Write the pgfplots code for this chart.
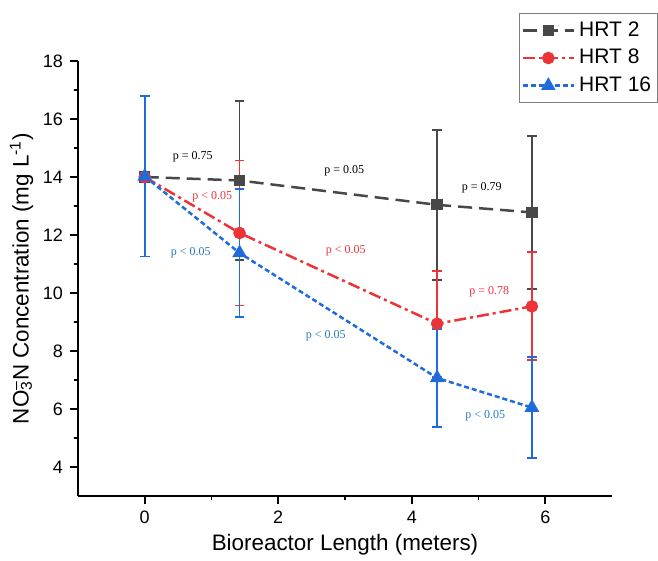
\documentclass[border=0pt]{standalone}
\usepackage{fontspec}
\setmainfont{Liberation Sans}
\newfontfamily\pfont{Liberation Serif}
\usepackage{pgfplots}
\pgfplotsset{compat=1.18}

\definecolor{cgray}{RGB}{72,72,72}
\definecolor{cred}{RGB}{236,52,56}
\definecolor{cblue}{RGB}{30,108,220}
\definecolor{tblue}{RGB}{40,120,190}

\begin{document}
\begin{tikzpicture}
\begin{axis}[
  scale only axis,
  width=267pt, height=217.5pt,
  xmin=-1, xmax=7, ymin=3, ymax=18,
  axis lines=left,
  axis line style={-, line width=0.8pt},
  xtick={0,2,4,6}, minor x tick num=1,
  ytick={4,6,...,18}, minor y tick num=1,
  tick align=outside,
  major tick length=4pt, minor tick length=2pt,
  tick style={black, line width=0.8pt},
  ticklabel style={font=\fontsize{9}{10}\selectfont},
  /pgf/number format/assume math mode=true,
  xlabel={Bioreactor Length (meters)},
  ylabel={NO\rlap{\textsubscript{3}}\textsuperscript{--}N Concentration (mg L\textsuperscript{-1})},
  label style={font=\fontsize{11.2}{13}\selectfont},
  xlabel style={yshift=1.5pt},
  ylabel style={yshift=-2pt},
  legend style={at={(0.826,1.110)}, anchor=north west, draw=gray,
    font=\fontsize{10.5}{12}\selectfont, cells={anchor=west},
    inner xsep=1pt, inner ysep=2pt, row sep=1pt},
  legend image code/.code={
    \draw[mark repeat=2, mark phase=2] plot coordinates {(0cm,0cm) (0.45cm,0cm) (0.9cm,0cm)};
  },
  error bars/y dir=both, error bars/y explicit,
  error bars/error mark options={rotate=90, mark size=2.4pt, line width=0.9pt, solid},
]
\addplot[cgray, line width=1.25pt, dash pattern=on 7pt off 3.5pt,
  mark=square*, mark size=2.2pt, mark options={solid},
  error bars/error bar style={solid, line width=0.9pt, cgray}]
  coordinates {
  (0,14.0) +- (0,0)
  (1.42,13.88) +- (0,2.73)
  (4.38,13.04) +- (0,2.58)
  (5.8,12.78) +- (0,2.64)
};
\addlegendentry{HRT 2}
\addplot[cred, line width=1.25pt, dash pattern=on 6pt off 2pt on 1.5pt off 2pt,
  mark=*, mark size=2.5pt, mark options={solid},
  error bars/error bar style={solid, line width=0.9pt, cred}]
  coordinates {
  (0,14.0) +- (0,0)
  (1.42,12.07) +- (0,2.5)
  (4.38,8.94) +- (0,1.83)
  (5.8,9.54) +- (0,1.86)
};
\addlegendentry{HRT 8}
\addplot[cblue, line width=1.25pt, dash pattern=on 2.5pt off 1.5pt,
  mark=triangle*, mark size=3pt, mark options={solid},
  error bars/error bar style={solid, line width=0.9pt, cblue}]
  coordinates {
  (0,14.02) +- (0,2.76)
  (1.42,11.38) +- (0,2.21)
  (4.38,7.07) +- (0,1.68)
  (5.8,6.05) +- (0,1.74)
};
\addlegendentry{HRT 16}

\begin{scope}[every node/.style={font=\pfont\fontsize{6}{7}\selectfont, inner sep=0pt}]
\node[black] at (axis cs:0.72,14.69) {p = 0.75};
\node[black] at (axis cs:2.99,14.23) {p = 0.05};
\node[black] at (axis cs:5.05,13.62) {p = 0.79};
\node[cred] at (axis cs:1.01,13.33) {p < 0.05};
\node[cred] at (axis cs:3.01,11.47) {p < 0.05};
\node[cred] at (axis cs:5.16,10.05) {p = 0.78};
\node[tblue] at (axis cs:0.69,11.38) {p < 0.05};
\node[tblue] at (axis cs:2.71,8.54) {p < 0.05};
\node[tblue] at (axis cs:5.10,5.77) {p < 0.05};
\end{scope}
\end{axis}
\pgfresetboundingbox
\path[use as bounding box] ([shift={(-39pt,-32pt)}]current axis.south west) rectangle ([shift={(23pt,30.5pt)}]current axis.north east);
\end{tikzpicture}
\end{document}
